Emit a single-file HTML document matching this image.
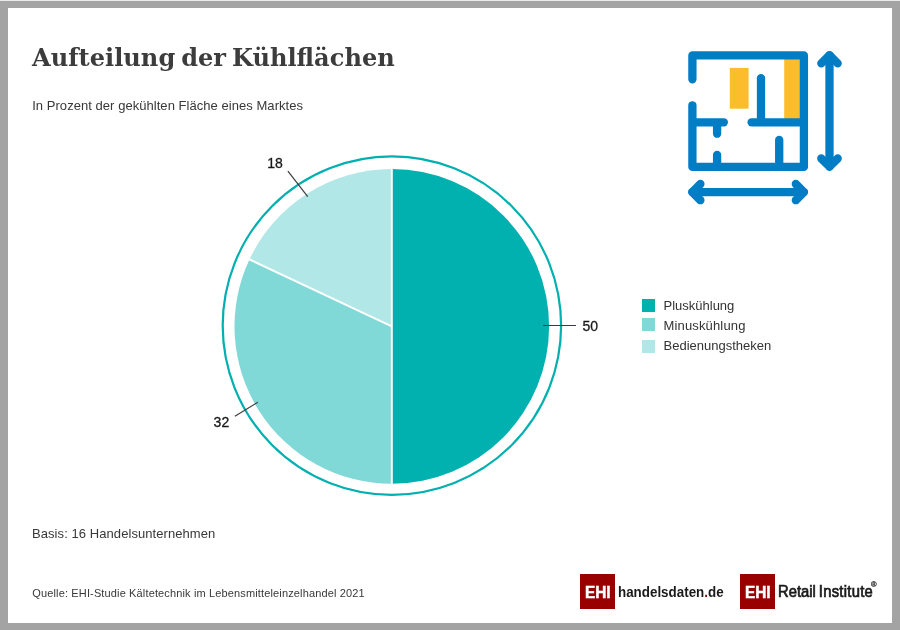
<!DOCTYPE html>
<html lang="de">
<head>
<meta charset="utf-8">
<title>Aufteilung der Kühlflächen</title>
<style>
html,body{margin:0;padding:0;}
body{width:900px;height:630px;overflow:hidden;background:#a3a3a3;position:relative;font-family:"Liberation Sans",sans-serif;color:#333;}
#topline{position:absolute;left:0;top:0;width:900px;height:1px;background:#ececec;}
#card{position:absolute;left:7.7px;top:8px;width:884.6px;height:614.7px;background:#fff;}
.t{position:absolute;white-space:nowrap;line-height:1;margin:0;}
#title{left:31.8px;top:46.3px;font-family:"DejaVu Serif","Liberation Serif",serif;font-weight:bold;font-size:24.7px;color:#3c3c3c;transform-origin:0 0;transform:scaleX(0.976);word-spacing:-2.5px;}
#sub{left:32.2px;top:98.6px;font-size:13px;color:#383838;letter-spacing:0.045px;}
#basis{left:32px;top:526.8px;font-size:13px;color:#383838;letter-spacing:0.07px;}
#quelle{left:32.3px;top:587.5px;font-size:11px;color:#383838;letter-spacing:0.14px;}
.leg{font-size:13px;color:#333;left:663.5px;}
.sq{position:absolute;left:642.3px;width:13.2px;height:13px;}
.lab{font-size:14px;color:#1a1a1a;-webkit-text-stroke:0.3px #1a1a1a;}
.ehi{position:absolute;top:574px;width:34.7px;height:34.7px;background:#990000;}
.ehi span{position:absolute;left:5.1px;top:10.8px;font-weight:bold;font-size:16.8px;line-height:1;color:#fff;-webkit-text-stroke:0.5px #fff;transform-origin:0 0;transform:scaleX(0.915);white-space:nowrap;}
#hd{left:618.1px;top:584.4px;font-weight:bold;font-size:15.2px;color:#1a1a1a;transform-origin:0 0;transform:scaleX(0.881);}
#ri{left:777.8px;top:584.3px;font-size:15.9px;color:#1a1a1a;-webkit-text-stroke:0.7px #1a1a1a;transform-origin:0 0;transform:scaleX(0.93);word-spacing:-1.2px;}
#ri b{font-weight:normal;letter-spacing:0.3px;}
#reg{left:870.9px;top:580.6px;font-size:7.6px;font-weight:bold;color:#1a1a1a;-webkit-text-stroke:0.2px #1a1a1a;}
svg{position:absolute;left:0;top:0;}
</style>
</head>
<body>
<div id="topline"></div>
<div id="card"></div>

<svg width="900" height="630" viewBox="0 0 900 630">
  <!-- pie -->
  <circle cx="391.9" cy="325.6" r="169.2" fill="none" stroke="#00b0af" stroke-width="2.2"/>
  <path d="M391.8 326.4 L391.8 169.10 A157.3 157.3 0 0 1 391.8 483.70 Z" fill="#00b1b0"/>
  <path d="M391.8 326.4 L391.8 483.70 A157.3 157.3 0 0 1 249.47 259.42 Z" fill="#80d8d7"/>
  <path d="M391.8 326.4 L249.47 259.42 A157.3 157.3 0 0 1 391.8 169.10 Z" fill="#b1e8e7"/>
  <g stroke="#fff" stroke-width="2" fill="none">
    <line x1="391.8" y1="168.10" x2="391.8" y2="484.70"/>
    <line x1="391.8" y1="326.4" x2="248.57" y2="259.00"/>
  </g>
  <g stroke="#3c3c3c" stroke-width="1.2" fill="none">
    <line x1="543.2" y1="325.5" x2="576" y2="325.5"/>
    <line x1="287.9" y1="171.2" x2="307.7" y2="196.6"/>
    <line x1="234.9" y1="416.2" x2="257.8" y2="402.3"/>
  </g>
  <!-- icon -->
  <rect x="729.8" y="67.9" width="18.8" height="40.8" fill="#fcbd2d"/>
  <rect x="784.2" y="56" width="18" height="64" fill="#fcbd2d"/>
  <g stroke="#007dc5" stroke-width="8.3" fill="none" stroke-linecap="round" stroke-linejoin="round">
    <path d="M692.4 79.3 V55.4 H803.9 V166.9 H692.4 V105.3"/>
    <path d="M694 122.3 H723.8"/>
    <path d="M751.6 122.3 H802"/>
    <path d="M761 78.2 V120"/>
    <path d="M717.1 124 V133.7"/>
    <path d="M717.1 154.9 V165"/>
    <path d="M779.2 139.9 V165"/>
    <path d="M829.5 55.3 V166.6"/>
    <path d="M821.3 63.4 L829.5 55.3 L837.7 63.4"/>
    <path d="M821.3 158.5 L829.5 166.6 L837.7 158.5"/>
    <path d="M692.3 192.1 H803.9"/>
    <path d="M700.4 184 L692.3 192.1 L700.4 200.2"/>
    <path d="M795.8 184 L803.9 192.1 L795.8 200.2"/>
  </g>
</svg>

<h1 class="t" id="title">Aufteilung der Kühlflächen</h1>
<div class="t" id="sub">In Prozent der gekühlten Fläche eines Marktes</div>

<div class="t lab" id="l18" style="left:267.2px;top:155.8px;">18</div>
<div class="t lab" id="l50" style="left:582.4px;top:319px;">50</div>
<div class="t lab" id="l32" style="left:213.6px;top:414.9px;">32</div>

<div class="sq" style="top:299px;background:#00b1b0;"></div>
<div class="sq" style="top:318px;background:#80d8d7;"></div>
<div class="sq" style="top:339.5px;background:#b1e8e7;"></div>
<div class="t leg" id="lg1" style="top:298.7px;">Pluskühlung</div>
<div class="t leg" id="lg2" style="top:318.5px;letter-spacing:0.15px;">Minuskühlung</div>
<div class="t leg" id="lg3" style="top:338.9px;">Bedienungstheken</div>

<div class="t" id="basis">Basis: 16 Handelsunternehmen</div>
<div class="t" id="quelle">Quelle: EHI-Studie Kältetechnik im Lebensmitteleinzelhandel 2021</div>

<div class="ehi" style="left:580.1px;"><span>EHI</span></div>
<div class="t" id="hd">handelsdaten<span style="color:#990000">.</span>de</div>
<div class="ehi" style="left:740.3px;"><span>EHI</span></div>
<div class="t" id="ri">Retail <b>Institute</b></div>
<div class="t" id="reg">®</div>
</body>
</html>
